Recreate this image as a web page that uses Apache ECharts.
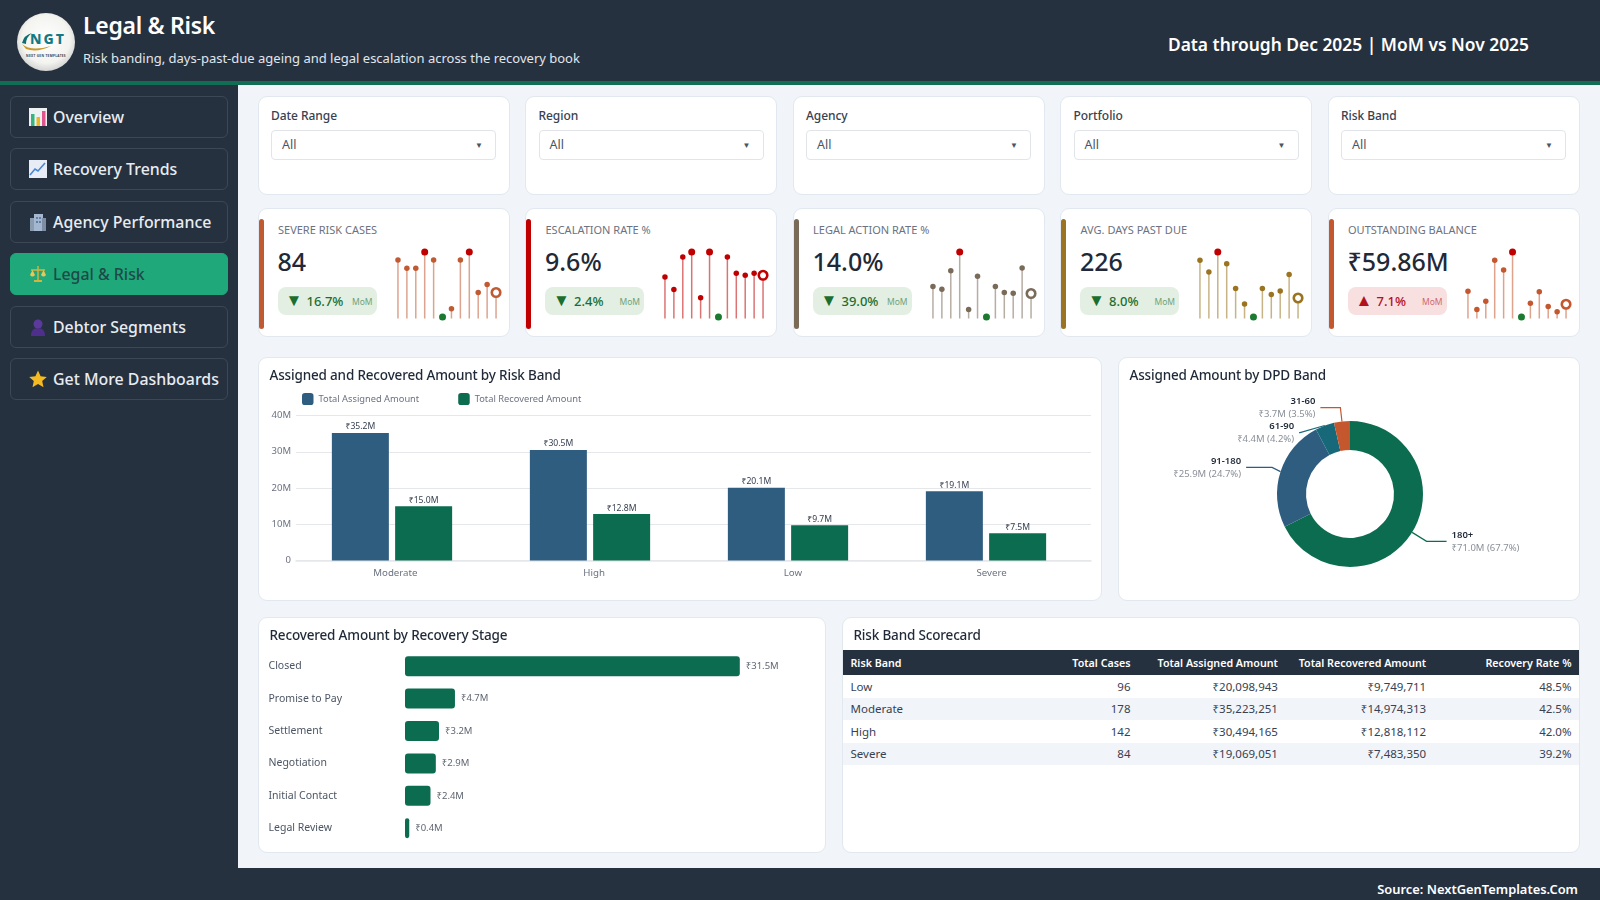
<!DOCTYPE html>
<html lang="en">
<head>
<meta charset="utf-8">
<title>Legal &amp; Risk</title>
<script src="https://cdn.jsdelivr.net/npm/echarts@6/dist/echarts.min.js"></script>
<style>
	* { box-sizing: border-box; margin: 0; padding: 0; }
	html, body { width: 1600px; height: 900px; overflow: hidden; background: #263140; font-family: "Noto Sans", sans-serif; }

	/* header */
	.header { position: absolute; left: 0; top: 0; width: 1600px; height: 85px; background: #263140; border-bottom: 4px solid #0f6e53; }
	.logo { position: absolute; left: 17px; top: 13px; width: 58px; height: 58px; }
	.header h1 { position: absolute; left: 83px; top: 8px; font-size: 23px; font-weight: 600; letter-spacing: -.3px; color: #fff; line-height: 34px; }
	.header p { position: absolute; left: 83px; top: 48px; font-size: 13px; color: #e1e6ec; line-height: 20px; }
	.header .through { position: absolute; right: 71px; top: 31px; font-size: 17.4px; font-weight: 600; color: #fff; line-height: 26px; }

	/* sidebar */
	.nav { position: absolute; left: 10px; width: 217.5px; height: 42.5px; border: 1px solid #3d4857; border-radius: 6px; color: #e8ecf1; font-size: 15.9px; font-weight: 500; line-height: 40px; padding-left: 42px; white-space: nowrap; }
	.nav svg { position: absolute; left: 18px; top: 11px; width: 18px; height: 18px; }
	.nav.active { background: #1fa97b; border-color: #1fa97b; color: #1d4a47; }

	.main { position: absolute; left: 238px; top: 85px; width: 1362px; height: 783px; background: #f1f5f9; }
	.footer { position: absolute; left: 238px; top: 868px; width: 1362px; height: 32px; background: #263140; color: #fff; font-size: 12.9px; font-weight: 600; line-height: 42px; text-align: right; padding-right: 22px; }

	.card { position: absolute; background: #fff; border: 1.5px solid #e2e8ef; border-radius: 9px; }
	.card-title { position: absolute; left: 11px; top: 6px; font-size: 13.5px; font-weight: 500; letter-spacing: -.17px; color: #1f2937; line-height: 22px; z-index: 2; white-space: nowrap; }

	/* filters */
	.filter-label { position: absolute; left: 12.5px; top: 9px; font-size: 12px; font-weight: 500; letter-spacing: -.05px; color: #374151; line-height: 20px; }
	.filter-box { position: absolute; left: 12.5px; top: 33px; width: 225px; height: 30px; border: 1.5px solid #e1e5ea; border-radius: 4px; font-size: 12.5px; color: #4b5563; line-height: 28px; padding-left: 10px; }
	.filter-box span { position: absolute; right: 12px; top: 0; font-size: 8px; color: #4b5563; }

	/* kpis */
	.kpi-bar { position: absolute; left: 0; top: 10px; width: 5px; height: 110px; border-radius: 3px; }
	.kpi-label { position: absolute; left: 19.5px; top: 12px; font-size: 11px; color: #6b7280; line-height: 18px; white-space: nowrap; }
	.kpi-value { position: absolute; left: 19px; top: 34px; font-size: 25px; font-weight: 500; color: #1f2937; line-height: 36px; white-space: nowrap; }
	.kpi-pill { position: absolute; left: 19px; top: 78px; width: 99px; height: 28px; border-radius: 8px; line-height: 28px; font-size: 13px; font-weight: 500; }
	.kpi-pill.good { background: #e3efe3; color: #1b6e2e; }
	.kpi-pill.bad { background: #f8dfe0; color: #b3101e; }
	.kpi-pill i { position: absolute; left: 8px; top: -1px; font-style: normal; font-size: 17px; }
	.kpi-pill b { position: absolute; left: 29px; top: 0; font-weight: 500; }
	.kpi-pill em { position: absolute; right: 4px; top: 1px; font-style: normal; font-size: 8.5px; font-weight: 400; opacity: .6; }
	.spark { position: absolute; left: 130px; top: 36px; width: 120px; height: 90px; }

	.chart { position: absolute; left: 0; top: 0; width: 100%; height: 100%; }

	/* table */
	table { position: absolute; left: 0; top: 32.5px; width: 736px; border-collapse: collapse; table-layout: fixed; font-size: 11.5px; color: #374151; }
	th { background: #263140; color: #fff; font-size: 10.7px; font-weight: 600; height: 25px; padding: 0 7px; text-align: right; white-space: nowrap; }
	td { height: 22.5px; padding: 0 7px; text-align: right; }
	th:first-child, td:first-child { text-align: left; padding-left: 8px; }
	tr:nth-child(even) td { background: #f1f5f9; }
</style>
</head>
<body>
	<div class="main"></div>
	<div class="header">
		<svg class="logo" viewBox="0 0 58 58">
			<defs><radialGradient id="lg" cx="50%" cy="45%" r="55%"><stop offset="0%" stop-color="#fff"/><stop offset="75%" stop-color="#f3f3f0"/><stop offset="100%" stop-color="#d4d5d2"/></radialGradient></defs>
			<circle cx="29" cy="29" r="29" fill="url(#lg)"/>
			<path d="M5 31 Q14 39 34 33 Q20 40 9 36 Z" fill="#c79a2a"/>
			<path d="M5 30 Q7 22 15 20 Q9 24 9 31 Z" fill="#0f6e6e"/>
			<text x="31" y="31" text-anchor="middle" font-family="Noto Sans" font-weight="800" font-size="14" letter-spacing="2" fill="#137a85">NGT</text>
			<text x="29" y="44" text-anchor="middle" font-family="Noto Sans" font-weight="700" font-size="3.2" letter-spacing=".3" fill="#444">NEXT GEN TEMPLATES</text>
		</svg>
		<h1>Legal &amp; Risk</h1>
		<p>Risk banding, days-past-due ageing and legal escalation across the recovery book</p>
		<div class="through">Data through Dec 2025 | MoM vs Nov 2025</div>
	</div>

	<div class="nav" style="top:95.5px"><svg viewBox="0 0 18 18"><rect width="18" height="18" fill="#eef1f4"/><rect x="2" y="6" width="3.5" height="12" fill="#36b37e"/><rect x="7.5" y="9" width="3.5" height="9" fill="#e8b923"/><rect x="13" y="3" width="3.5" height="15" fill="#e0568c"/></svg>Overview</div>
	<div class="nav" style="top:147.5px"><svg viewBox="0 0 18 18"><rect width="18" height="18" fill="#e8ecf4"/><path d="M1 15 L6 9 L9 11 L16 3" fill="none" stroke="#4a86d8" stroke-width="1.6"/></svg>Recovery Trends</div>
	<div class="nav" style="top:200.5px"><svg viewBox="0 0 18 18"><rect x="1" y="5" width="5" height="13" fill="#8b9bb0"/><rect x="5" y="1" width="9" height="17" fill="#a3b8d0"/><rect x="13" y="5" width="4" height="13" fill="#7d8ea4"/><rect x="7" y="4" width="2" height="2" fill="#5f7fa5"/><rect x="10" y="4" width="2" height="2" fill="#5f7fa5"/><rect x="7" y="8" width="2" height="2" fill="#5f7fa5"/><rect x="10" y="8" width="2" height="2" fill="#5f7fa5"/></svg>Agency Performance</div>
	<div class="nav active" style="top:252.5px"><svg viewBox="0 0 18 18"><path d="M9 1 V15 M2 5 H16" stroke="#d9b23c" stroke-width="1.4" fill="none"/><path d="M1 10 Q3.5 13 6 10 L3.5 5 Z M12 10 Q14.5 13 17 10 L14.5 5 Z" fill="#e8c659"/><rect x="5" y="15" width="8" height="2" fill="#d9b23c"/></svg>Legal &amp; Risk</div>
	<div class="nav" style="top:305.5px"><svg viewBox="0 0 18 18"><circle cx="9" cy="6" r="4.5" fill="#5b3a9c"/><path d="M2 18 Q2 10 9 10 Q16 10 16 18 Z" fill="#4e2f8c"/></svg>Debtor Segments</div>
	<div class="nav" style="top:357.5px"><svg viewBox="0 0 18 18"><path d="M9 0.5 L11.6 6.2 L17.8 6.9 L13.2 11 L14.5 17.2 L9 14 L3.5 17.2 L4.8 11 L0.2 6.9 L6.4 6.2 Z" fill="#f5b921"/></svg>Get More Dashboards</div>

	<div class="footer">Source: NextGenTemplates.Com</div>

	<div id="filters"></div>
	<div id="kpis"></div>

	<div class="card" style="left:257.5px;top:356.5px;width:844.5px;height:244.5px"><div class="card-title">Assigned and Recovered Amount by Risk Band</div><div class="chart" id="bandChart"></div></div>
	<div class="card" style="left:1117.5px;top:356.5px;width:462px;height:244.5px"><div class="card-title">Assigned Amount by DPD Band</div><div class="chart" id="dpdChart"></div></div>
	<div class="card" style="left:257.5px;top:616.5px;width:568.5px;height:236.5px"><div class="card-title">Recovered Amount by Recovery Stage</div><div class="chart" id="stageChart"></div></div>
	<div class="card" style="left:841.5px;top:616.5px;width:738px;height:236.5px"><div class="card-title">Risk Band Scorecard</div><table id="scoreTable"></table></div>

<script>
	var filterNames = ['Date Range', 'Region', 'Agency', 'Portfolio', 'Risk Band'];

	var kpiNames = ['SEVERE RISK CASES', 'ESCALATION RATE %', 'LEGAL ACTION RATE %', 'AVG. DAYS PAST DUE', 'OUTSTANDING BALANCE'];
	var kpiValues = ['84', '9.6%', '14.0%', '226', '₹59.86M'];
	var kpiChanges = ['16.7%', '2.4%', '39.0%', '8.0%', '7.1%'];
	var kpiDirections = ['down', 'down', 'down', 'down', 'up'];
	var kpiColors = ['#c05a33', '#c00000', '#7a6a58', '#9a7420', '#c4572e'];

	var severeCases = [152, 135, 135, 169, 152, 33, 50, 152, 169, 84, 101, 84];
	var escalationRate = [9.4, 7.9, 11.8, 12.4, 6.9, 12.4, 4.6, 11.8, 9.84, 9.6, 9.84, 9.6];
	var legalActionRate = [16.5, 15.5, 22, 28.6, 8.4, 20.1, 5.8, 16.5, 14.4, 14.1, 23, 14];
	var avgDaysPastDue = [258, 248, 265, 255, 234, 221, 210, 234, 229, 232, 246, 226];
	var outstandingBalance = [66.6, 57.1, 61.4, 82.7, 77.7, 87, 53.3, 60.4, 66.4, 58.7, 55.9, 59.86];
	var sparkSeries = [severeCases, escalationRate, legalActionRate, avgDaysPastDue, outstandingBalance];

	var riskBands = ['Moderate', 'High', 'Low', 'Severe'];
	var assignedAmount = [35.2, 30.5, 20.1, 19.1];
	var recoveredAmount = [15.0, 12.8, 9.7, 7.5];
	var amountTicks = [0, 10, 20, 30, 40];

	var dpdBands = ['180+', '91-180', '61-90', '31-60'];
	var dpdAmounts = [71.0, 25.9, 4.4, 3.7];
	var dpdShares = [67.7, 24.7, 4.2, 3.5];

	var stages = ['Closed', 'Promise to Pay', 'Settlement', 'Negotiation', 'Initial Contact', 'Legal Review'];
	var stageAmounts = [31.5, 4.7, 3.2, 2.9, 2.4, 0.4];

	var tableHead = ['Risk Band', 'Total Cases', 'Total Assigned Amount', 'Total Recovered Amount', 'Recovery Rate %'];
	var tableBands = ['Low', 'Moderate', 'High', 'Severe'];
	var tableCases = ['96', '178', '142', '84'];
	var tableAssigned = ['₹20,098,943', '₹35,223,251', '₹30,494,165', '₹19,069,051'];
	var tableRecovered = ['₹9,749,711', '₹14,974,313', '₹12,818,112', '₹7,483,350'];
	var tableRates = ['48.5%', '42.5%', '42.0%', '39.2%'];

	var FONT = '"Noto Sans", sans-serif';
	var GREEN = '#0c6c50';
	var BLUE = '#2f5d80';
	var cardLefts = [257.5, 525, 792.5, 1060, 1327.5];

	/*筛选卡片*/
	var filterHtml = '';
	for (var i = 0; i < filterNames.length; i++) {
		filterHtml += '<div class="card" style="left:' + cardLefts[i] + 'px;top:95.5px;width:252px;height:99.5px">' +
			'<div class="filter-label">' + filterNames[i] + '</div>' +
			'<div class="filter-box">All<span>▼</span></div></div>';
	}
	document.getElementById('filters').innerHTML = filterHtml;

	/*KPI 卡片*/
	var kpiHtml = '';
	for (var i = 0; i < kpiNames.length; i++) {
		var good = kpiDirections[i] == 'down';
		kpiHtml += '<div class="card" style="left:' + cardLefts[i] + 'px;top:207.5px;width:252px;height:129.5px">' +
			'<div class="kpi-bar" style="background:' + kpiColors[i] + '"></div>' +
			'<div class="kpi-label">' + kpiNames[i] + '</div>' +
			'<div class="kpi-value">' + kpiValues[i] + '</div>' +
			'<div class="kpi-pill ' + (good ? 'good' : 'bad') + '"><i>' + (good ? '▼' : '▲') + '</i><b>' + kpiChanges[i] + '</b><em>MoM</em></div>' +
			'<div class="spark" id="spark' + i + '"></div></div>';
	}
	document.getElementById('kpis').innerHTML = kpiHtml;

	/*迷你棒棒图*/
	function drawSpark(dom, data, color) {
		var lo = Math.min.apply(null, data);
		var hi = Math.max.apply(null, data);
		var last = data.length - 1;
		var dots = [];
		for (var i = 0; i < data.length; i++) {
			var item = { value: data[i], symbolSize: 5.5, itemStyle: { color: color, opacity: 1 } };
			if (data[i] == hi && i != last) {
				item.symbolSize = 7;
				item.itemStyle = { color: '#c00000', opacity: 1 };
			}
			if (data[i] == lo && i != last) {
				item.symbolSize = 7;
				item.itemStyle = { color: '#1b7a2f', opacity: 1 };
			}
			if (i == last) {
				item.symbolSize = 8.5;
				item.itemStyle = { color: '#fff', borderColor: color, borderWidth: 2.6, opacity: 1 };
			}
			dots.push(item);
		}
		var chart = echarts.init(dom);
		chart.setOption({
			animation: false,
			grid: { left: 4.5, top: 7, width: 107, height: 66.5 },
			xAxis: { type: 'category', show: false, data: data.map(function(v, i) { return i; }) },
			yAxis: { type: 'value', show: false, min: lo - (hi - lo) * 0.025, max: hi },
			series: [{
				type: 'bar',
				data: data,
				barWidth: 1.5,
				itemStyle: { color: color, opacity: 0.55 },
				silent: true
			}, {
				type: 'scatter',
				data: dots,
				z: 3,
				silent: true
			}]
		});
	}
	for (var i = 0; i < sparkSeries.length; i++) {
		drawSpark(document.getElementById('spark' + i), sparkSeries[i], kpiColors[i]);
	}

	/*风险等级柱状图：柱子组比类目标签略偏左，所以分两个 grid*/
	function drawBand() {
		var chart = echarts.init(document.getElementById('bandChart'));
		function barLabel(p) {
			return '₹' + p.value.toFixed(1) + 'M';
		}
		var label = { show: true, position: 'top', distance: 1.5, fontSize: 8.6, fontFamily: FONT, color: '#374151', formatter: barLabel };
		chart.setOption({
			animation: false,
			textStyle: { fontFamily: FONT },
			legend: {
				left: 38, top: 30, itemWidth: 11.5, itemHeight: 12, itemGap: 39,
				icon: 'roundRect',
				textStyle: { fontSize: 9.3, color: '#6b7280', fontFamily: FONT },
				data: ['Total Assigned Amount', 'Total Recovered Amount']
			},
			grid: [
				{ left: 37, top: 57.5, width: 795, height: 145 },
				{ left: 34, top: 57.5, width: 792, height: 145 }
			],
			xAxis: [{
				type: 'category',
				gridIndex: 0,
				data: riskBands,
				axisTick: { show: false },
				axisLine: { lineStyle: { color: '#e5e7eb', width: 1.5 } },
				axisLabel: { fontSize: 9.7, color: '#6b7280', margin: 8, fontFamily: FONT }
			}, {
				type: 'category',
				gridIndex: 1,
				data: riskBands,
				show: false
			}],
			yAxis: [{
				type: 'value',
				gridIndex: 0,
				min: amountTicks[0],
				max: amountTicks[amountTicks.length - 1],
				interval: 10,
				axisLabel: { fontSize: 9.5, color: '#6b7280', margin: 5, fontFamily: FONT, formatter: function(v) { return v == 0 ? '0' : v + 'M'; } },
				splitLine: { lineStyle: { color: '#e5e7eb', width: 1.2 } }
			}, {
				type: 'value',
				gridIndex: 1,
				min: amountTicks[0],
				max: amountTicks[amountTicks.length - 1],
				show: false
			}],
			series: [
				{ name: 'Total Assigned Amount', type: 'bar', xAxisIndex: 1, yAxisIndex: 1, data: assignedAmount, barWidth: 57, barGap: '11%', itemStyle: { color: BLUE }, label: label },
				{ name: 'Total Recovered Amount', type: 'bar', xAxisIndex: 1, yAxisIndex: 1, data: recoveredAmount, barWidth: 57, itemStyle: { color: GREEN }, label: label }
			]
		});
	}

	/*DPD 环形图*/
	function drawDpd() {
		var chart = echarts.init(document.getElementById('dpdChart'));
		var colors = [GREEN, BLUE, '#17697a', '#c4572e'];
		var lineLengths = [17, 14, 4, 14];
		var lineLengths2 = [20, 26, 1, 20];
		var pieData = [];
		for (var i = 0; i < dpdBands.length; i++) {
			pieData.push({
				name: dpdBands[i],
				value: dpdAmounts[i],
				share: dpdShares[i],
				itemStyle: { color: colors[i] },
				labelLine: { length: lineLengths[i], length2: lineLengths2[i], lineStyle: { color: colors[i] } }
			});
		}
		chart.setOption({
			animation: false,
			series: [{
				type: 'pie',
				center: [231, 136],
				radius: [44, 73],
				startAngle: 90,
				clockwise: true,
				data: pieData,
				label: {
					formatter: function(p) {
						return '{n|' + p.name + '}\n{v|₹' + p.value.toFixed(1) + 'M (' + p.data.share + '%)}';
					},
					rich: {
						n: { fontSize: 9.5, fontWeight: 600, color: '#1f2937', fontFamily: FONT, lineHeight: 13 },
						v: { fontSize: 9.5, color: '#8a8f98', fontFamily: FONT, lineHeight: 13 }
					}
				},
				labelLine: { show: true, lineStyle: { width: 1.2 } }
			}]
		});
	}

	/*回收阶段条形图*/
	function drawStage() {
		var chart = echarts.init(document.getElementById('stageChart'));
		chart.setOption({
			animation: false,
			grid: { left: 146, top: 32, width: 372, height: 194.4 },
			xAxis: { type: 'value', min: 0, max: 35, show: false },
			yAxis: {
				type: 'category',
				inverse: true,
				data: stages,
				axisLine: { show: false },
				axisTick: { show: false },
				axisLabel: { fontSize: 10.5, color: '#4b5563', fontFamily: FONT, align: 'left', margin: 136.5, padding: [5, 0, 0, 0] }
			},
			series: [{
				type: 'bar',
				data: stageAmounts,
				barWidth: 20,
				itemStyle: { color: GREEN, borderRadius: 3 },
				label: {
					show: true, position: 'right', distance: 6, fontSize: 9.5, color: '#5f6672', fontFamily: FONT, padding: [5, 0, 0, 0],
					formatter: function(p) { return '₹' + p.value.toFixed(1) + 'M'; }
				}
			}]
		});
	}

	/*计分卡表格*/
	function drawTable() {
		var widths = [147, 148, 147.4, 148.3, 145.3];
		var html = '<colgroup>';
		for (var c = 0; c < widths.length; c++) {
			html += '<col style="width:' + widths[c] + 'px">';
		}
		html += '</colgroup><thead><tr>';
		for (var i = 0; i < tableHead.length; i++) {
			html += '<th>' + tableHead[i] + '</th>';
		}
		html += '</tr></thead><tbody>';
		for (var r = 0; r < tableBands.length; r++) {
			html += '<tr><td>' + tableBands[r] + '</td><td>' + tableCases[r] + '</td><td>' + tableAssigned[r] + '</td><td>' + tableRecovered[r] + '</td><td>' + tableRates[r] + '</td></tr>';
		}
		html += '</tbody>';
		document.getElementById('scoreTable').innerHTML = html;
	}

	drawBand();
	drawDpd();
	drawStage();
	drawTable();
</script>
</body>
</html>
